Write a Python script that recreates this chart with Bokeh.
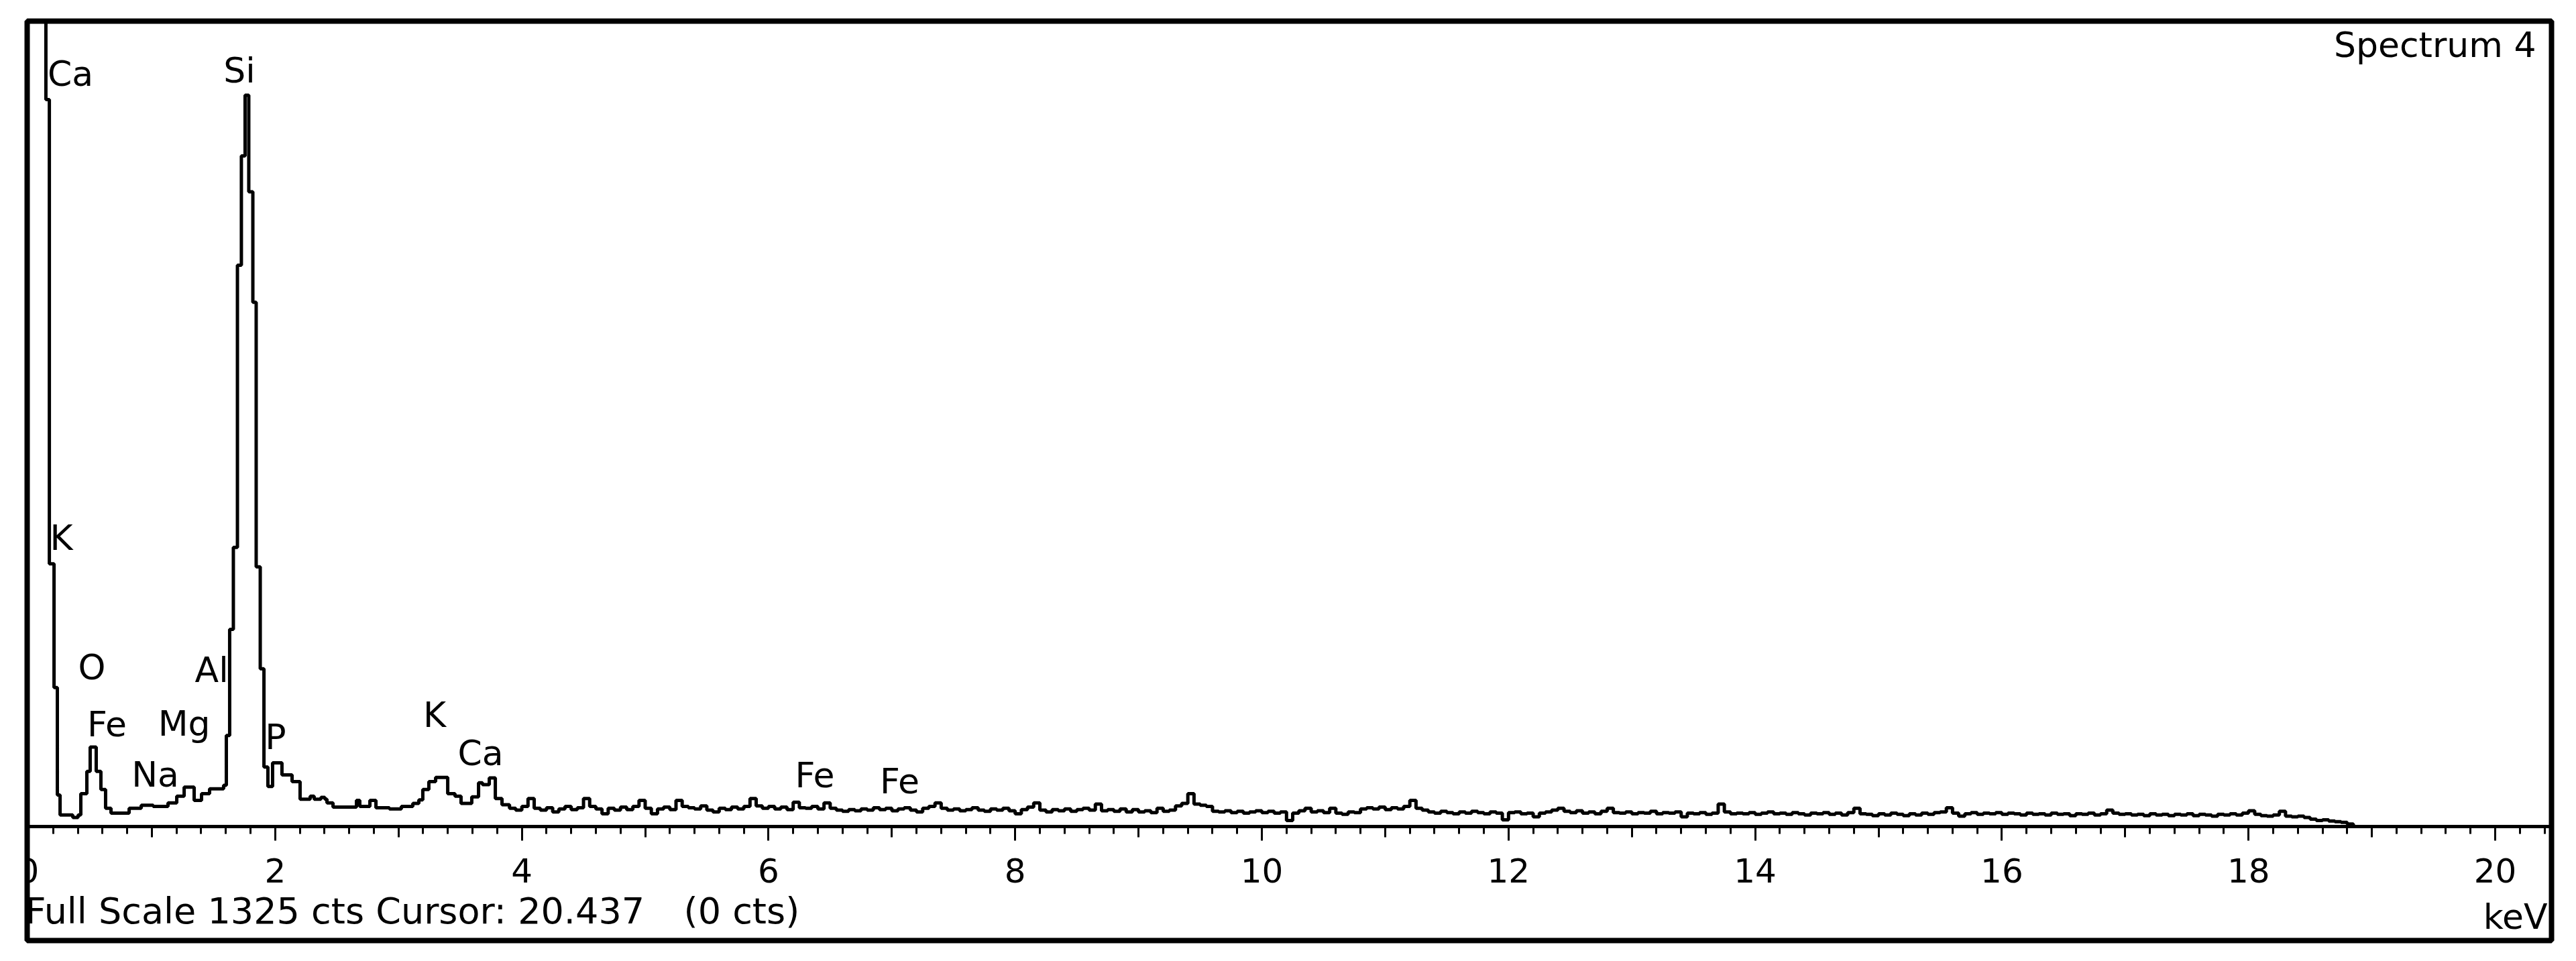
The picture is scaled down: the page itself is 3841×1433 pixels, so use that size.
from bokeh.plotting import figure
from bokeh.models import Range1d, LinearAxis, FixedTicker, Label
from bokeh.core.properties import value
from bokeh.embed import file_html
from bokeh.resources import INLINE

# ---------------- data ----------------
FULL_SCALE_CTS = 1325

# low-energy part: channel left edges (keV) and counts
peak_energy_keV = [0.000, 0.141, 0.169, 0.207, 0.234, 0.256, 0.359, 0.402, 0.424, 0.473,
                   0.500, 0.549, 0.587, 0.625, 0.669, 0.816, 0.914, 1.011, 1.131, 1.202,
                   1.262, 1.343, 1.403, 1.468, 1.582, 1.604, 1.631, 1.661, 1.694, 1.726,
                   1.756, 1.786, 1.819, 1.846, 1.879, 1.909, 1.941, 1.979, 2.055, 2.137,
                   2.202, 2.284, 2.316, 2.371, 2.403, 2.420, 2.469, 2.659, 2.686, 2.768,
                   2.817, 2.926, 3.023, 3.116, 3.165, 3.197, 3.246, 3.301, 3.399, 3.458,
                   3.507, 3.594, 3.649, 3.681, 3.736, 3.785, 3.839]
peak_counts = [2000, 1198, 433, 229, 52, 19, 15, 19, 54, 91,
               131, 91, 61, 30, 22, 30, 35, 33, 39, 50,
               65, 43, 54, 62, 68, 150, 325, 460, 925, 1105,
               1205, 1046, 864, 428, 260, 98, 66, 105, 85, 74,
               45, 50, 45, 48, 45, 39, 32, 43, 33, 43,
               31, 29, 33, 38, 44, 61, 74, 81, 54, 50,
               38, 49, 72, 69, 80, 46, 36]

# background part: channels of 0.05 keV starting at 3.90 keV
background_start_keV = 3.90
background_step_keV = 0.05
background_counts = [
    30, 27, 33, 46, 30, 27, 31, 24, 29, 33, 28, 31, 46, 33, 29, 21, 30, 27, 32, 28,
    33, 43, 30, 21, 29, 32, 28, 43, 33, 31, 29, 34, 27, 24, 30, 28, 32, 29, 33, 46,
    34, 30, 33, 29, 32, 28, 40, 31, 30, 33, 29, 39, 30, 27, 25, 28, 26, 29, 27, 31,
    28, 30, 26, 29, 31, 27, 24, 30, 33, 39, 30, 27, 29, 26, 28, 31, 27, 25, 29, 27,
    30, 26, 21, 28, 32, 39, 27, 24, 28, 26, 29, 25, 28, 30, 27, 37, 26, 28, 25, 29,
    24, 28, 24, 26, 23, 30, 25, 27, 34, 38, 54, 37, 35, 33, 25, 24, 26, 23, 25, 22,
    24, 26, 23, 25, 22, 24, 10, 22, 26, 30, 24, 26, 23, 30, 22, 20, 24, 23, 29, 31,
    29, 32, 28, 31, 29, 33, 43, 30, 27, 24, 22, 25, 23, 21, 24, 22, 25, 23, 21, 24,
    22, 11, 23, 24, 21, 22, 16, 22, 24, 27, 30, 25, 23, 26, 22, 24, 21, 25, 30, 23,
    22, 24, 21, 23, 22, 25, 21, 23, 22, 24, 16, 22, 21, 23, 20, 22, 37, 24, 21, 22,
    21, 23, 20, 22, 24, 21, 22, 20, 23, 21, 19, 22, 21, 23, 20, 22, 19, 23, 30, 21,
    20, 18, 21, 19, 22, 20, 18, 21, 19, 22, 20, 23, 24, 31, 22, 17, 21, 23, 20, 22,
    21, 23, 20, 22, 21, 19, 22, 20, 21, 19, 22, 20, 21, 18, 21, 20, 22, 19, 21, 27,
    22, 20, 21, 19, 20, 18, 21, 19, 20, 18, 20, 19, 21, 18, 20, 19, 17, 20, 19, 21,
    19, 22, 26, 20, 18, 17, 19, 25, 17, 16, 17, 15, 12, 10, 11, 9, 8, 7, 4, 0,
]

# element labels: text, energy (keV), height of the label's middle (counts)
label_text = ["Ca", "Si", "K", "O", "Al", "Fe", "Mg", "Na", "P", "K", "Ca", "Fe", "Fe"]
label_keV = [0.34, 1.710, 0.267, 0.514, 1.485, 0.636, 1.262, 1.028, 2.004, 3.293, 3.665, 6.376, 7.064]
label_cts = [1241, 1246, 476, 262, 258, 169, 170, 86, 148, 184, 121, 85, 75]

major_ticks = [0, 2, 4, 6, 8, 10, 12, 14, 16, 18, 20]
odd_ticks = [1, 3, 5, 7, 9, 11, 13, 15, 17, 19]
minor_ticks = [round(0.2 * i, 1) for i in range(0, 103)]

title_text = "Spectrum 4"
status_text = "Full Scale 1325 cts Cursor: 20.437"
status_cts_text = "(0 cts)"
unit_text = "keV"

# ---------------- figure ----------------
energies = peak_energy_keV + [round(background_start_keV + background_step_keV * i, 3)
                              for i in range(len(background_counts))]
counts = peak_counts + background_counts

p = figure(width=3841, height=1433, output_backend="svg", toolbar_location=None,
           title=None, x_axis_location=None, y_axis_location=None,
           x_range=Range1d(-0.01088, 20.4567), y_range=Range1d(-187.9, 1327.2),
           min_border_left=40, min_border_right=37, min_border_top=31, min_border_bottom=31)
p.background_fill_color = "white"
p.border_fill_color = "white"
p.outline_line_color = "black"
p.outline_line_width = 8
p.outline_line_alpha = 1.0
p.grid.visible = False

FONT = "DejaVu Sans"

ax = LinearAxis(fixed_location=0,
                ticker=FixedTicker(ticks=major_ticks, minor_ticks=minor_ticks),
                axis_line_width=5, axis_line_color="black",
                major_tick_in=0, major_tick_out=21, major_tick_line_width=3,
                minor_tick_in=0, minor_tick_out=11, minor_tick_line_width=3,
                major_label_text_font=FONT, major_label_text_font_size="50px",
                major_label_text_color="black", major_label_standoff=27)
p.add_layout(ax, "below")

ax2 = LinearAxis(fixed_location=0,
                 ticker=FixedTicker(ticks=odd_ticks, minor_ticks=[]),
                 axis_line_color=None, minor_tick_line_color=None,
                 major_tick_in=0, major_tick_out=16, major_tick_line_width=3,
                 major_label_overrides={t: "" for t in odd_ticks})
p.add_layout(ax2, "below")

p.step(energies, counts, mode="after", line_color="black", line_width=5)

p.text(x=label_keV, y=label_cts, text=label_text, text_align="center",
       text_baseline="alphabetic", text_font=value(FONT),
       text_font_size=value("52px"), text_color="black")

p.add_layout(Label(x=20.332, y=1288.5, text=title_text, text_align="right",
                   text_baseline="alphabetic", text_font=FONT, text_font_size="52px",
                   text_color="black"))
p.add_layout(Label(x=-0.027, y=-139.8, text=status_text, text_align="left",
                   text_baseline="alphabetic", text_font=FONT, text_font_size="54px",
                   text_color="black"))
p.add_layout(Label(x=5.313, y=-139.8, text=status_cts_text, text_align="left",
                   text_baseline="alphabetic", text_font=FONT, text_font_size="54px",
                   text_color="black"))
p.add_layout(Label(x=20.424, y=-148.6, text=unit_text, text_align="right",
                   text_baseline="alphabetic", text_font=FONT, text_font_size="52px",
                   text_color="black"))

open("out.html", "w").write(file_html(p, INLINE))
